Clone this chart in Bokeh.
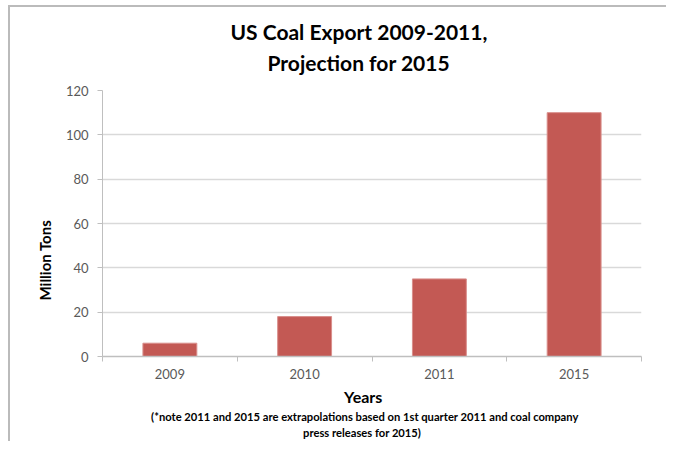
import math
from bokeh.plotting import figure
from bokeh.models import Range1d, FixedTicker, Title, ColumnDataSource
from bokeh.embed import file_html
from bokeh.resources import INLINE

# ---- data ----
years = ["2009", "2010", "2011", "2015"]
export_mt = [6, 18, 35, 110]
y_ticks = [0, 20, 40, 60, 80, 100, 120]
title_1 = "US Coal Export 2009-2011,"
title_2 = "Projection for 2015"
x_title = "Years"
y_title = "Million Tons"
note_1 = "(*note 2011 and 2015 are extrapolations based on 1st quarter 2011 and coal company"
note_2 = "press releases for 2015)"

FONT = "Lato"
BAR = "#C35954"
GRID = "#D9D9D9"
AXIS = "#BFBFBF"
TXT = "#595959"

n = len(years)
centers = [i + 0.5 for i in range(n)]
src = ColumnDataSource(dict(x=centers, year=years, value=export_mt))

p = figure(width=666, height=441, frame_width=539, frame_height=266,
           x_range=Range1d(0, n), y_range=Range1d(0, 120),
           output_backend="svg", toolbar_location=None,
           min_border_left=102, min_border_right=25, min_border_top=90,
           min_border_bottom=85)
p.title = None
p.outline_line_color = None
p.background_fill_color = "white"
p.border_fill_color = None
p.styles = {
    "background-color": "white",
    "background-image": "linear-gradient(#BBBBBB,#BBBBBB), linear-gradient(#BBBBBB,#BBBBBB)",
    "background-size": "2px 100%, 100% 2px",
    "background-position": "8px 5px, 8px 5px",
    "background-repeat": "no-repeat",
}

p.vbar(x="x", top="value", width=0.4, source=src,
       fill_color=BAR, line_color="#D98E8B", line_width=1)

# y axis
ya = p.yaxis[0]
ya.ticker = FixedTicker(ticks=y_ticks)
ya.axis_line_color = AXIS
ya.major_tick_line_color = AXIS
ya.major_tick_out = 5
ya.major_tick_in = 0
ya.minor_tick_line_color = None
ya.major_label_text_font = FONT
ya.major_label_text_font_size = "13px"
ya.major_label_text_color = TXT
ya.major_label_standoff = 9
p.ygrid.grid_line_color = GRID
p.ygrid.grid_line_width = 1.5
p.ygrid.ticker = FixedTicker(ticks=y_ticks)
p.xgrid.grid_line_color = None

# x axis: labels at category centres, ticks at category boundaries
xa = p.xaxis[0]
xa.ticker = FixedTicker(ticks=centers, minor_ticks=list(range(n + 1)))
xa.major_label_overrides = {c: y for c, y in zip(centers, years)}
xa.axis_line_color = AXIS
xa.axis_line_width = 1.5
xa.major_tick_line_color = None
xa.major_tick_out = 0
xa.major_tick_in = 0
xa.minor_tick_line_color = AXIS
xa.minor_tick_out = 5
xa.minor_tick_in = 0
xa.major_label_text_font = FONT
xa.major_label_text_font_size = "13px"
xa.major_label_text_color = TXT
xa.major_label_standoff = 7

def side_title(text, where, size, offset, standoff):
    t = Title(text=text, align="left", offset=offset, standoff=standoff,
              text_font=FONT, text_font_size=size, text_font_style="bold",
              text_color="black")
    p.add_layout(t, where)

# chart title (closest to frame first)
side_title(title_2, "above", "21px", 165, 32)
side_title(title_1, "above", "21px", 128, -24)
# axis titles and note
side_title(x_title, "below", "16px", 241.6, 6)
side_title(note_1, "below", "11.2px", 48.6, -2)
side_title(note_2, "below", "11.2px", 200.6, 4)
side_title(y_title, "left", "15px", 56, 17)

open("out.html", "w").write(file_html(p, INLINE))
